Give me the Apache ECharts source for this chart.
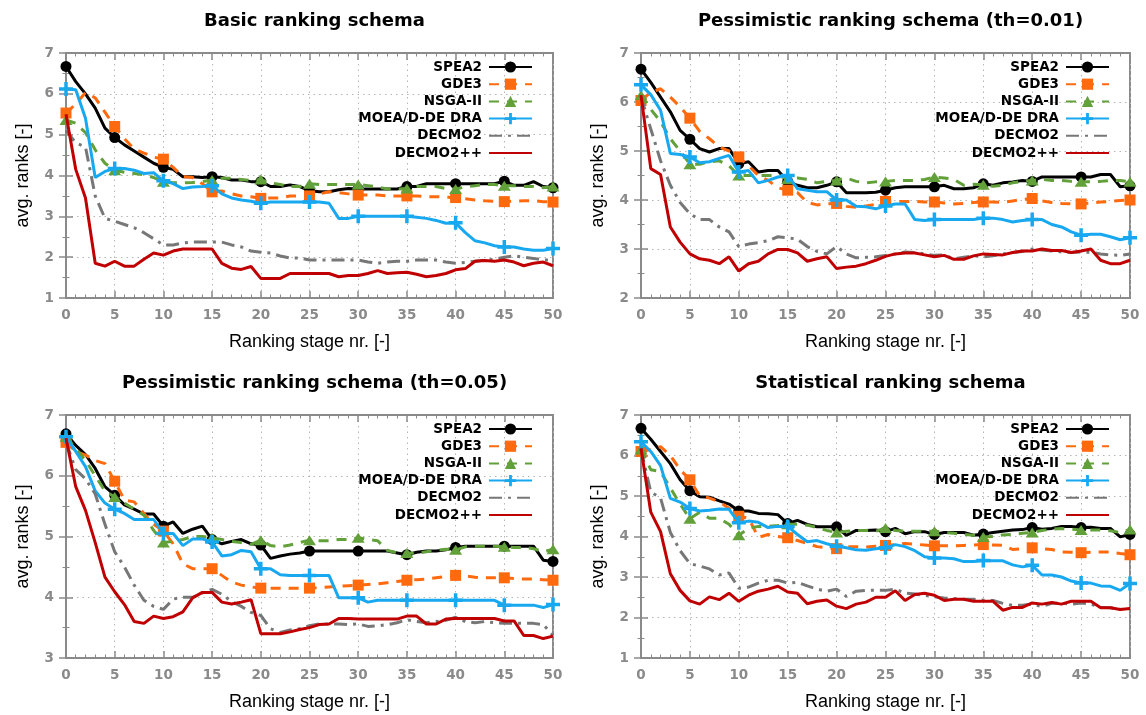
<!DOCTYPE html>
<html><head><meta charset="utf-8">
<script src="https://cdn.jsdelivr.net/npm/echarts@6/dist/echarts.min.js"></script>
<style>html,body{margin:0;padding:0;background:#fff}#c{width:1146px;height:715px}</style>
</head><body><div id="c"></div>
<script>
// ---------- data ----------
const stages = [0,1,2,3,4,5,6,7,8,9,10,11,12,13,14,15,16,17,18,19,20,21,22,23,24,25,26,27,28,29,30,31,32,33,34,35,36,37,38,39,40,41,42,43,44,45,46,47,48,49,50];
const seriesNames = ['SPEA2','GDE3','NSGA-II','MOEA/D-DE DRA','DECMO2','DECMO2++'];
const panelTitles = ['Basic ranking schema','Pessimistic ranking schema (th=0.01)','Pessimistic ranking schema (th=0.05)','Statistical ranking schema'];
const yMins = [1,2,3,1];
const yMaxs = [7,7,7,7];

// Basic ranking schema
const basic_SPEA2 = [6.67,6.3,6.0,5.65,5.16,4.93,4.75,4.6,4.45,4.3,4.2, 4.15,3.97,3.97,3.95,3.97,3.95,3.89,3.89,3.85,3.85, 3.73,3.73,3.77,3.73,3.63,3.6,3.6,3.65,3.68,3.67, 3.67,3.67,3.67,3.67,3.73,3.73,3.8,3.8,3.8,3.8, 3.8,3.8,3.8,3.8,3.86,3.76,3.76,3.85,3.73,3.7];
const basic_GDE3 = [5.53,5.75,6.03,5.9,5.55,5.2,4.9,4.65,4.55,4.45,4.4, 4.2,3.97,3.95,3.8,3.6,3.62,3.55,3.5,3.48,3.44, 3.45,3.45,3.5,3.5,3.5,3.55,3.6,3.58,3.55,3.52, 3.52,3.52,3.5,3.5,3.5,3.5,3.48,3.48,3.47,3.46, 3.43,3.4,3.38,3.37,3.36,3.37,3.38,3.38,3.36,3.35];
const basic_NSGA2 = [5.36,5.28,5.05,4.63,4.3,4.13,4.08,4.05,4.02,3.95,3.85, 3.82,3.82,3.83,3.85,3.89,3.93,3.93,3.9,3.88,3.9, 3.82,3.78,3.73,3.73,3.8,3.78,3.78,3.78,3.78,3.78, 3.75,3.72,3.67,3.67,3.68,3.73,3.73,3.73,3.68,3.67, 3.72,3.75,3.78,3.78,3.75,3.75,3.73,3.73,3.7,3.73];
const basic_MOEAD = [6.12,6.1,5.4,3.95,4.1,4.17,4.17,4.13,4.05,4.07,3.87, 3.8,3.68,3.72,3.73,3.75,3.55,3.45,3.4,3.37,3.32, 3.35,3.35,3.35,3.35,3.35,3.35,3.32,2.95,2.95,3.0, 3.0,3.0,3.0,3.0,3.0,2.98,2.95,2.9,2.83,2.84, 2.6,2.4,2.35,2.28,2.25,2.25,2.2,2.17,2.17,2.21];
const basic_DECMO2 = [5.1,4.8,4.7,3.5,2.95,2.88,2.8,2.72,2.6,2.45,2.3, 2.3,2.35,2.37,2.37,2.37,2.37,2.3,2.25,2.15,2.12, 2.1,2.03,1.98,1.98,1.93,1.93,1.93,1.93,1.93,1.93, 1.88,1.85,1.88,1.9,1.9,1.93,1.93,1.93,1.88,1.85, 1.87,1.9,1.93,1.95,2.0,2.03,2.0,1.97,1.93,1.93];
const basic_DECMO2pp = [5.5,4.15,3.45,1.85,1.78,1.9,1.78,1.78,1.95,2.1,2.05, 2.15,2.2,2.2,2.2,2.2,1.85,1.73,1.7,1.77,1.48, 1.48,1.48,1.6,1.6,1.6,1.6,1.6,1.52,1.55,1.55, 1.6,1.67,1.6,1.62,1.63,1.58,1.52,1.55,1.6,1.69, 1.72,1.9,1.92,1.9,1.93,1.88,1.79,1.85,1.88,1.79];

// Pessimistic ranking schema (th=0.01)
const p01_SPEA2 = [6.67,6.4,6.1,5.8,5.42,5.24,5.05,4.98,5.05,5.05,4.74, 4.78,4.57,4.6,4.6,4.38,4.3,4.25,4.25,4.3,4.37, 4.15,4.15,4.15,4.16,4.2,4.25,4.27,4.27,4.27,4.27, 4.3,4.23,4.23,4.25,4.33,4.3,4.35,4.37,4.4,4.38, 4.47,4.47,4.47,4.47,4.47,4.47,4.52,4.52,4.27,4.29];
const p01_GDE3 = [6.03,6.2,6.27,6.1,5.9,5.67,5.4,5.25,5.08,5.0,4.88, 4.7,4.5,4.4,4.25,4.2,4.15,3.95,3.9,3.92,3.93, 3.87,3.85,3.88,3.91,3.97,3.97,3.97,3.97,3.96,3.96, 3.94,3.92,3.93,3.95,3.96,3.96,3.95,3.98,4.01,4.03, 3.98,3.95,3.93,3.92,3.92,3.94,3.96,3.97,3.99,4.0];
const p01_NSGA2 = [6.14,5.85,5.6,5.25,5.0,4.73,4.73,4.78,4.8,4.7,4.5, 4.5,4.5,4.5,4.5,4.43,4.45,4.42,4.35,4.38,4.4, 4.45,4.38,4.35,4.37,4.38,4.4,4.4,4.4,4.42,4.47, 4.45,4.42,4.3,4.32,4.31,4.28,4.3,4.35,4.38,4.4, 4.42,4.4,4.4,4.38,4.37,4.37,4.38,4.4,4.4,4.37];
const p01_MOEAD = [6.35,6.15,5.83,4.95,4.93,4.88,4.76,4.78,4.85,4.91,4.57, 4.6,4.35,4.4,4.47,4.5,4.23,4.2,4.17,4.17,4.0, 4.0,3.87,3.86,3.82,3.88,3.92,3.92,3.6,3.58,3.6, 3.6,3.6,3.6,3.6,3.63,3.63,3.6,3.55,3.58,3.6, 3.6,3.5,3.45,3.35,3.28,3.3,3.3,3.25,3.19,3.23];
const p01_DECMO2 = [6.1,5.45,4.8,4.3,3.95,3.72,3.6,3.6,3.45,3.35,3.05, 3.1,3.13,3.17,3.25,3.23,3.2,3.05,2.95,2.9,3.05, 2.9,2.82,2.83,2.84,2.87,2.9,2.94,2.93,2.9,2.87, 2.88,2.8,2.83,2.86,2.84,2.86,2.9,2.93,2.95,3.0, 2.98,2.96,2.94,2.93,2.94,2.93,2.9,2.88,2.87,2.9];
const p01_DECMO2pp = [6.14,4.64,4.52,3.45,3.14,2.9,2.8,2.77,2.7,2.84,2.55, 2.7,2.75,2.9,2.99,2.99,2.92,2.75,2.8,2.84,2.6, 2.63,2.65,2.7,2.77,2.85,2.9,2.92,2.92,2.88,2.84, 2.87,2.79,2.79,2.86,2.9,2.89,2.88,2.93,2.96,2.96, 3.0,2.97,2.97,2.93,2.96,3.0,2.77,2.7,2.7,2.77];

// Pessimistic ranking schema (th=0.05)
const p05_SPEA2 = [6.69,6.5,6.35,6.12,5.82,5.68,5.52,5.45,5.37,5.37,5.17, 5.24,5.05,5.12,5.17,4.95,4.88,4.92,4.95,4.88,4.86, 4.64,4.68,4.71,4.73,4.76,4.76,4.76,4.76,4.76,4.76, 4.76,4.76,4.76,4.73,4.7,4.74,4.76,4.76,4.78,4.82, 4.84,4.84,4.84,4.84,4.84,4.84,4.84,4.84,4.61,4.59];
const p05_GDE3 = [6.55,6.4,6.34,6.25,6.2,5.91,5.6,5.57,5.38,5.2,5.09, 4.88,4.55,4.47,4.47,4.47,4.36,4.25,4.2,4.17,4.15, 4.15,4.15,4.15,4.15,4.15,4.16,4.17,4.18,4.19,4.2, 4.21,4.22,4.24,4.26,4.28,4.29,4.3,4.32,4.34,4.36, 4.35,4.33,4.32,4.32,4.32,4.31,4.3,4.3,4.29,4.28];
const p05_NSGA2 = [6.64,6.45,6.25,6.0,5.75,5.65,5.55,5.45,5.35,5.1,4.9, 4.92,4.95,5.0,5.0,4.98,4.95,4.92,4.9,4.87,4.94, 4.85,4.83,4.86,4.9,4.94,4.93,4.93,4.95,4.95,4.98, 4.95,4.93,4.77,4.73,4.73,4.72,4.75,4.77,4.79,4.78, 4.83,4.84,4.84,4.84,4.83,4.82,4.82,4.8,4.75,4.79];
const p05_MOEAD = [6.64,6.4,6.15,5.75,5.55,5.45,5.38,5.28,5.28,5.28,5.05, 5.05,4.85,4.96,4.96,4.91,4.68,4.7,4.77,4.75,4.47, 4.47,4.37,4.36,4.36,4.36,4.36,4.36,3.99,3.99,3.99, 3.92,3.95,3.95,3.95,3.95,3.95,3.95,3.95,3.95,3.95, 3.95,3.95,3.95,3.95,3.87,3.87,3.87,3.87,3.83,3.88];
const p05_DECMO2 = [6.55,6.1,5.95,5.7,5.2,4.75,4.5,4.2,3.95,3.85,3.8, 3.97,4.0,4.0,4.07,4.13,4.05,3.93,3.85,3.75,3.7, 3.48,3.42,3.46,3.48,3.53,3.56,3.56,3.56,3.55,3.56, 3.52,3.53,3.55,3.58,3.63,3.6,3.58,3.6,3.62,3.67, 3.6,3.58,3.6,3.58,3.57,3.57,3.57,3.57,3.55,3.37];
const p05_DECMO2pp = [6.62,5.82,5.43,4.9,4.33,4.09,3.88,3.6,3.57,3.69,3.65, 3.68,3.76,3.99,4.08,4.08,3.92,3.89,3.92,3.96,3.4, 3.4,3.4,3.43,3.47,3.5,3.55,3.56,3.65,3.65,3.64, 3.64,3.64,3.64,3.64,3.69,3.69,3.56,3.56,3.64,3.65, 3.65,3.65,3.65,3.65,3.61,3.61,3.37,3.37,3.32,3.36];

// Statistical ranking schema
const stat_SPEA2 = [6.67,6.4,6.1,5.8,5.4,5.13,4.98,4.97,4.88,4.8,4.63, 4.63,4.57,4.56,4.54,4.32,4.4,4.3,4.24,4.24,4.24, 4.03,4.15,4.15,4.16,4.12,4.2,4.07,4.12,4.12,4.05, 4.1,4.1,4.1,4.03,4.06,4.1,4.13,4.16,4.17,4.22, 4.18,4.2,4.25,4.25,4.22,4.23,4.2,4.2,3.99,4.05];
const stat_GDE3 = [6.1,6.15,6.22,6.0,5.65,5.4,5.0,4.95,4.85,4.7,4.5, 4.45,3.98,4.05,4.0,3.97,3.9,3.83,3.75,3.72,3.7, 3.75,3.75,3.74,3.76,3.78,3.8,3.83,3.81,3.79,3.77, 3.77,3.77,3.78,3.79,3.8,3.79,3.78,3.68,3.7,3.72, 3.7,3.68,3.62,3.61,3.6,3.61,3.62,3.62,3.58,3.55];
const stat_NSGA2 = [6.15,5.65,5.6,5.2,4.8,4.44,4.6,4.45,4.45,4.3,4.03, 4.2,4.25,4.25,4.27,4.3,4.3,4.28,4.22,4.15,4.1, 4.13,4.15,4.15,4.13,4.21,4.15,4.13,4.13,4.13,4.13, 4.1,4.08,4.05,4.03,3.99,4.0,4.04,4.05,4.08,4.1, 4.15,4.18,4.2,4.18,4.16,4.16,4.16,4.14,4.1,4.17];
const stat_MOEAD = [6.34,6.1,5.75,4.94,4.85,4.69,4.63,4.65,4.68,4.67,4.34, 4.38,4.35,4.22,4.25,4.25,4.05,3.87,3.9,3.82,3.76, 3.72,3.67,3.66,3.7,3.72,3.8,3.75,3.65,3.5,3.47, 3.47,3.45,3.38,3.38,3.41,3.4,3.4,3.3,3.25,3.29, 3.05,3.05,3.0,2.9,2.85,2.85,2.78,2.77,2.67,2.84];
const stat_DECMO2 = [6.15,5.1,4.95,4.1,3.65,3.33,3.27,3.2,3.05,3.1,2.72, 2.75,2.85,2.92,2.92,2.85,2.87,2.78,2.7,2.65,2.7, 2.52,2.65,2.67,2.67,2.67,2.7,2.6,2.58,2.55,2.51, 2.48,2.47,2.45,2.45,2.43,2.42,2.35,2.3,2.3,2.33, 2.27,2.35,2.35,2.33,2.36,2.33,2.25,2.24,2.2,2.22];
const stat_DECMO2pp = [6.18,4.6,4.12,3.08,2.67,2.41,2.33,2.51,2.44,2.6,2.4, 2.55,2.65,2.7,2.77,2.63,2.6,2.34,2.4,2.43,2.28, 2.22,2.33,2.38,2.5,2.5,2.66,2.42,2.57,2.6,2.55, 2.42,2.45,2.45,2.4,2.4,2.4,2.18,2.25,2.25,2.36, 2.33,2.37,2.33,2.4,2.4,2.4,2.24,2.24,2.2,2.22];

const panelData = [
  [basic_SPEA2, basic_GDE3, basic_NSGA2, basic_MOEAD, basic_DECMO2, basic_DECMO2pp],
  [p01_SPEA2, p01_GDE3, p01_NSGA2, p01_MOEAD, p01_DECMO2, p01_DECMO2pp],
  [p05_SPEA2, p05_GDE3, p05_NSGA2, p05_MOEAD, p05_DECMO2, p05_DECMO2pp],
  [stat_SPEA2, stat_GDE3, stat_NSGA2, stat_MOEAD, stat_DECMO2, stat_DECMO2pp]
];

// ---------- styling ----------
const FONT = '"Liberation Sans", Arial, sans-serif';
const BOLD_FONT = '"DejaVu Sans", "Liberation Sans", sans-serif';
const AXIS_GRAY = '#8a8a8a';
const grids = [
  {left: 66, top: 53, width: 487, height: 245},
  {left: 641, top: 53, width: 489, height: 245},
  {left: 66, top: 415, width: 487, height: 243},
  {left: 641, top: 415, width: 489, height: 243}
];
const PLUS = 'path://M3,0H5V3H8V5H5V8H3V5H0V3H3Z';
const styles = [
  {color: '#000000', type: 'solid', symbol: 'circle', size: 11, legendMark: true},
  {color: '#ff6a0e', type: [10, 8], symbol: 'rect', size: 11, legendMark: true},
  {color: '#62a03a', type: [10, 8], symbol: 'triangle', size: [13, 10], legendMark: true},
  {color: '#18a8f0', type: 'solid', symbol: PLUS, size: 14, legendMark: true},
  {color: '#777777', type: [13, 6, 3, 6], symbol: 'none', size: 0, legendMark: false},
  {color: '#c00000', type: 'solid', symbol: 'none', size: 0, legendMark: false}
];

const option = {
  animation: false,
  backgroundColor: '#ffffff',
  textStyle: {fontFamily: FONT},
  title: [], grid: [], xAxis: [], yAxis: [], legend: [], series: []
};

grids.forEach((g, p) => {
  option.grid.push({left: g.left, top: g.top, width: g.width, height: g.height,
    show: true, borderColor: AXIS_GRAY, borderWidth: 2, backgroundColor: 'transparent'});
  option.title.push({
    text: panelTitles[p], left: g.left + g.width / 2, top: g.top - 46, textAlign: 'center',
    textStyle: {fontFamily: BOLD_FONT, fontWeight: 'bold', fontSize: 18, color: '#000'}
  });
  const common = {
    gridIndex: p,
    axisLine: {show: true, lineStyle: {color: AXIS_GRAY, width: 2}},
    axisTick: {show: true, inside: true, length: 7, lineStyle: {color: AXIS_GRAY, width: 1.5}},
    minorTick: {show: true, length: 3.5, lineStyle: {color: AXIS_GRAY, width: 1}}
  };
  option.xAxis.push(Object.assign({}, common, {
    type: 'value', min: 0, max: 50, interval: 5, position: 'bottom',
    minorTick: Object.assign({}, common.minorTick, {splitNumber: 5}),
    axisLabel: {color: AXIS_GRAY, fontWeight: 'bold', fontSize: 13.5, fontFamily: BOLD_FONT, margin: 10},
    splitLine: {show: true, lineStyle: {color: '#b5b5b5', type: [1.5, 4], width: 1}},
    name: 'Ranking stage nr. [-]', nameLocation: 'middle', nameGap: 35,
    nameTextStyle: {color: '#000', fontSize: 18, fontFamily: FONT}
  }));
  option.xAxis.push(Object.assign({}, common, {
    type: 'value', min: 0, max: 50, interval: 5, position: 'top',
    minorTick: Object.assign({}, common.minorTick, {splitNumber: 5}),
    axisLabel: {show: false}, splitLine: {show: false}
  }));
  option.yAxis.push(Object.assign({}, common, {
    type: 'value', min: yMins[p], max: yMaxs[p], interval: 1, position: 'left',
    minorTick: Object.assign({}, common.minorTick, {splitNumber: 2}),
    axisLabel: {color: AXIS_GRAY, fontWeight: 'bold', fontSize: 13.5, fontFamily: BOLD_FONT, margin: 12},
    splitLine: {show: true, lineStyle: {color: '#b5b5b5', type: [1.5, 4], width: 1}},
    name: 'avg. ranks [-]', nameLocation: 'middle', nameGap: 34,
    nameTextStyle: {color: '#000', fontSize: 18, fontFamily: FONT}
  }));
  option.yAxis.push(Object.assign({}, common, {
    type: 'value', min: yMins[p], max: yMaxs[p], interval: 1, position: 'right',
    minorTick: Object.assign({}, common.minorTick, {splitNumber: 2}),
    axisLabel: {show: false}, splitLine: {show: false}
  }));
  option.legend.push({
    data: seriesNames.map((n, s) => styles[s].legendMark ? n : {name: n, itemStyle: {opacity: 0}}),
    orient: 'vertical', align: 'right', padding: 0,
    right: 1146 - (g.left + g.width) + 20, top: g.top + 7,
    itemWidth: 43, itemHeight: 14, itemGap: 3.2, selectedMode: false,
    textStyle: {fontFamily: BOLD_FONT, fontWeight: 'bold', fontSize: 13.5, color: '#000', lineHeight: 14, padding: [0, 2, 0, 0]}
  });
  panelData[p].forEach((vals, s) => {
    const st = styles[s];
    option.series.push({
      type: 'line', name: seriesNames[s], xAxisIndex: 2 * p, yAxisIndex: 2 * p,
      data: vals.map((v, i) => [stages[i], v]),
      showAllSymbol: true,
      symbol: st.symbol,
      symbolSize: st.symbol === 'none' ? 0 : function (val, params) { return params.dataIndex % 5 === 0 ? st.size : 0; },
      lineStyle: {color: st.color, width: 3, type: st.type},
      itemStyle: {color: st.color, borderWidth: 0},
      emphasis: {disabled: true},
      z: 2 + s
    });
  });
});

const chart = echarts.init(document.getElementById('c'), null, {renderer: 'canvas'});
chart.setOption(option);
</script>
</body></html>
